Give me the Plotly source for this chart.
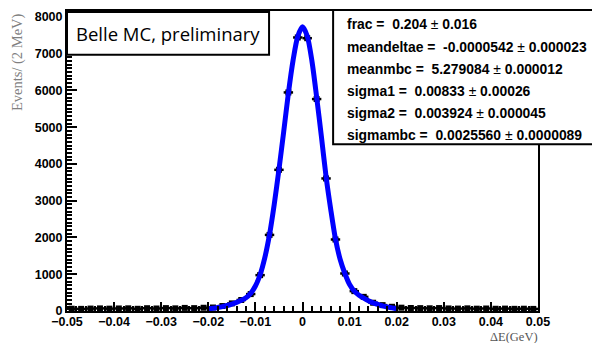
import plotly.graph_objects as go

# ---- data ----
bin_centers = [-0.049, -0.047, -0.045, -0.043, -0.041, -0.039, -0.037, -0.035, -0.033, -0.031,
               -0.029, -0.027, -0.025, -0.023, -0.021, -0.019, -0.017, -0.015, -0.013, -0.011,
               -0.009, -0.007, -0.005, -0.003, -0.001, 0.001, 0.003, 0.005, 0.007, 0.009,
               0.011, 0.013, 0.015, 0.017, 0.019, 0.021, 0.023, 0.025, 0.027, 0.029,
               0.031, 0.033, 0.035, 0.037, 0.039, 0.041, 0.043, 0.045, 0.047, 0.049]
counts = [62, 58, 66, 71, 64, 69, 73, 60, 76, 68,
          79, 72, 84, 78, 88, 95, 135, 207, 300, 460,
          975, 2070, 3840, 5945, 7440, 7420, 5765, 3605, 1945, 1020,
          540, 385, 225, 160, 115, 90, 82, 78, 74, 80,
          70, 66, 72, 63, 68, 61, 65, 59, 62, 57]

fit_x = [-0.020, -0.019, -0.018, -0.017, -0.016, -0.015, -0.014, -0.013, -0.012, -0.011,
         -0.010, -0.009, -0.008, -0.007, -0.006, -0.005, -0.004, -0.003, -0.002, -0.001,
         0.000, 0.001, 0.002, 0.003, 0.004, 0.005, 0.006, 0.007, 0.008, 0.009,
         0.010, 0.011, 0.012, 0.013, 0.014, 0.015, 0.016, 0.017, 0.018, 0.019, 0.020]
fit_y = [60, 75, 95, 120, 150, 190, 235, 290, 360, 480,
         680, 985, 1450, 2080, 2900, 3850, 4870, 5920, 6820, 7470,
         7730, 7480, 6800, 5820, 4760, 3660, 2760, 1960, 1400, 1020,
         720, 540, 430, 350, 280, 220, 180, 140, 110, 85, 60]

x_ticks = [-0.05, -0.04, -0.03, -0.02, -0.01, 0, 0.01, 0.02, 0.03, 0.04, 0.05]
x_tick_labels = ["\u22120.05", "\u22120.04", "\u22120.03", "\u22120.02", "\u22120.01", "0",
                 "0.01", "0.02", "0.03", "0.04", "0.05"]
y_ticks = [0, 1000, 2000, 3000, 4000, 5000, 6000, 7000, 8000]
y_tick_labels = ["0", "1000", "2000", "3000", "4000", "5000", "6000", "7000", "8000"]

stats_lines = [
    ("frac = ", "0.204", "0.016"),
    ("meandeltae = ", "-0.0000542", "0.000023"),
    ("meanmbc = ", "5.279084", "0.000012"),
    ("sigma1 = ", "0.00833", "0.00026"),
    ("sigma2 = ", "0.003924", "0.000045"),
    ("sigmambc = ", "0.0025560", "0.0000089"),
]

fig = go.Figure()

fig.add_trace(go.Scatter(
    x=bin_centers, y=counts, mode="markers",
    marker=dict(color="black", size=6, symbol="square"),
    error_x=dict(type="constant", value=0.001, color="black", thickness=2.5, width=0),
    error_y=dict(type="sqrt", color="black", thickness=2.5, width=0),
    showlegend=False, hoverinfo="skip",
))

fig.add_trace(go.Scatter(
    x=fit_x, y=fit_y, mode="lines",
    line=dict(color="#0000ff", width=5, shape="spline", smoothing=0.8),
    showlegend=False, hoverinfo="skip",
))

tickfont = dict(family="Liberation Sans, Arial", size=12.5, color="black")

fig.update_layout(
    width=592, height=343,
    margin=dict(l=67, r=54, t=9, b=32),
    paper_bgcolor="white", plot_bgcolor="white",
    xaxis=dict(
        range=[-0.05, 0.05], tickvals=x_ticks,
        ticktext=[f"<b>{t}</b>" for t in x_tick_labels],
        ticks="inside", ticklen=9, tickwidth=1.5, tickcolor="black",
        minor=dict(dtick=0.002, ticks="inside", ticklen=5, tickwidth=1.5, tickcolor="black"),
        showline=True, linecolor="black", linewidth=2, mirror=True,
        showgrid=False, zeroline=False, tickfont=tickfont, ticklabelstandoff=-2,
    ),
    yaxis=dict(
        range=[0, 8160], tickvals=y_ticks,
        ticktext=[f"<b>{t}</b>" for t in y_tick_labels],
        ticks="inside", ticklen=10, tickwidth=1.5, tickcolor="black",
        minor=dict(dtick=100, ticks="inside", ticklen=5, tickwidth=1.5, tickcolor="black"),
        showline=True, linecolor="black", linewidth=2, mirror=True,
        showgrid=False, zeroline=False, tickfont=tickfont,
    ),
)

# "Belle MC, preliminary" box
fig.add_shape(type="rect", xref="paper", yref="paper", x0=0.0, x1=0.429, y0=0.854, y1=0.997,
              line=dict(color="black", width=2), fillcolor="white", layer="above")
fig.add_annotation(text="Belle MC, preliminary", xref="paper", yref="paper", x=0.015, y=0.924,
                   xanchor="left", yanchor="middle", showarrow=False,
                   font=dict(family="Open Sans, Lato", size=18.5, color="black"))

# statistics box
fig.add_shape(type="rect", xref="paper", yref="paper", x0=0.565, x1=1.14, y0=0.556, y1=1.003,
              line=dict(color="black", width=2), fillcolor="white", layer="above")
line_y = [0.957, 0.881, 0.808, 0.735, 0.659, 0.586]
for (name, val, err), yy in zip(stats_lines, line_y):
    fig.add_annotation(
        text=f"<b>{name} {val}</b> \u00b1<b> {err}</b>", xref="paper", yref="paper",
        x=0.590, y=yy, xanchor="left", yanchor="middle", showarrow=False,
        font=dict(family="Liberation Sans, Arial", size=13.9, color="black"))

# axis titles
fig.add_annotation(text="Events/ (2 MeV)", xref="paper", yref="paper", x=-0.106, y=1.0,
                   xanchor="center", yanchor="top", textangle=-90, showarrow=False,
                   font=dict(family="Liberation Serif, Times New Roman", size=14.5, color="#808080"))
fig.add_annotation(text="\u0394E(GeV)", xref="paper", yref="paper", x=1.004, y=-0.086,
                   xanchor="right", yanchor="middle", showarrow=False,
                   font=dict(family="Liberation Serif, Times New Roman", size=12.5, color="#555555"))

fig.write_html("out.html")
